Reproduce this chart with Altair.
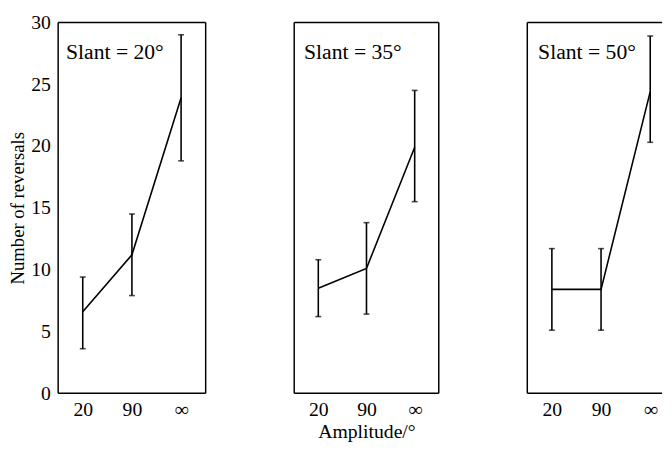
import altair as alt
import pandas as pd

amplitudes = ["20", "90", "∞"]
slants = ["Slant = 20°", "Slant = 35°", "Slant = 50°"]

mean_20 = [6.6, 11.2, 23.9]
lo_20 = [3.6, 7.9, 18.8]
hi_20 = [9.4, 14.5, 29.0]

mean_35 = [8.5, 10.1, 19.9]
lo_35 = [6.2, 6.4, 15.5]
hi_35 = [10.8, 13.8, 24.5]

mean_50 = [8.4, 8.4, 24.4]
lo_50 = [5.1, 5.1, 20.3]
hi_50 = [11.7, 11.7, 28.9]

FONT = "Liberation Serif"
FS = 20
H = 377

panels = [
    (slants[0], mean_20, lo_20, hi_20, 150, 8),
    (slants[1], mean_35, lo_35, hi_35, 147, 10),
    (slants[2], mean_50, lo_50, hi_50, 137, 11),
]

charts = []
for i, (label, mean, lo, hi, w, tx) in enumerate(panels):
    df = pd.DataFrame({"amp": amplitudes, "mean": mean, "lo": lo, "hi": hi})
    first = i == 0
    middle = i == 1
    last = i == 2
    if last:
        xscale = alt.Scale(type="point", range=[25, 125], padding=0)
    else:
        xscale = alt.Scale(type="point", padding=0.5)
    x = alt.X(
        "amp:N",
        sort=amplitudes,
        scale=xscale,
        axis=alt.Axis(
            title="Amplitude/°" if middle else None,
            labelAngle=0,
            ticks=False,
            domain=False,
            labelPadding=7,
            titlePadding=2,
            labelFont=FONT,
            titleFont=FONT,
            labelFontSize=FS,
            titleFontSize=20,
            titleFontWeight="normal",
            labelColor="black",
            titleColor="black",
        ),
    )
    yscale = alt.Scale(domain=[0, 30], nice=False, zero=True)
    if first:
        yfield = alt.Y(
            "mean:Q",
            scale=yscale,
            axis=alt.Axis(
                title="Number of reversals",
                values=[0, 5, 10, 15, 20, 25, 30],
                ticks=False,
                domain=False,
                grid=False,
                labelPadding=8,
                titlePadding=3,
                labelFont=FONT,
                titleFont=FONT,
                labelFontSize=FS,
                titleFontSize=19,
                titleFontWeight="normal",
                labelColor="black",
                titleColor="black",
            ),
        )
    else:
        yfield = alt.Y("mean:Q", scale=yscale, axis=None)

    base = alt.Chart(df)
    line = base.mark_line(color="black", strokeWidth=1.6).encode(x=x, y=yfield)
    bars = base.mark_rule(color="black", strokeWidth=1.6).encode(
        x=alt.X("amp:N", sort=amplitudes), y="lo:Q", y2="hi:Q"
    )
    cap_lo = base.mark_tick(color="black", orient="horizontal", size=6, thickness=1.6).encode(
        x=alt.X("amp:N", sort=amplitudes), y="lo:Q"
    )
    cap_hi = base.mark_tick(color="black", orient="horizontal", size=6, thickness=1.6).encode(
        x=alt.X("amp:N", sort=amplitudes), y="hi:Q"
    )
    txt = alt.Chart(pd.DataFrame({"t": [label]})).mark_text(
        font=FONT, fontSize=22, align="left", baseline="alphabetic", color="black"
    ).encode(x=alt.value(tx), y=alt.value(37), text="t:N")

    fb = alt.Chart(pd.DataFrame({"k": [0]}))
    left = fb.mark_rule(color="black", strokeWidth=1.5).encode(
        x=alt.value(0), y=alt.value(0), y2=alt.value(H)
    )
    top = fb.mark_rule(color="black", strokeWidth=1.5).encode(
        x=alt.value(0), x2=alt.value(w), y=alt.value(0)
    )
    bottom = fb.mark_rule(color="black", strokeWidth=1.5).encode(
        x=alt.value(0), x2=alt.value(w), y=alt.value(H)
    )
    layers = [line, bars, cap_lo, cap_hi, txt, left, top, bottom]
    if not last:
        right = fb.mark_rule(color="black", strokeWidth=1.5).encode(
            x=alt.value(w), y=alt.value(0), y2=alt.value(H)
        )
        layers.append(right)
    charts.append(alt.layer(*layers).properties(width=w, height=H))

chart = (
    alt.hconcat(*charts, spacing=86)
    .properties(padding={"left": 0, "top": 0, "right": 0, "bottom": 0})
    .configure(font=FONT, background="white")
    .configure_view(stroke="transparent")
)

chart.save("out.html", embed_options={"renderer": "svg", "actions": False})
